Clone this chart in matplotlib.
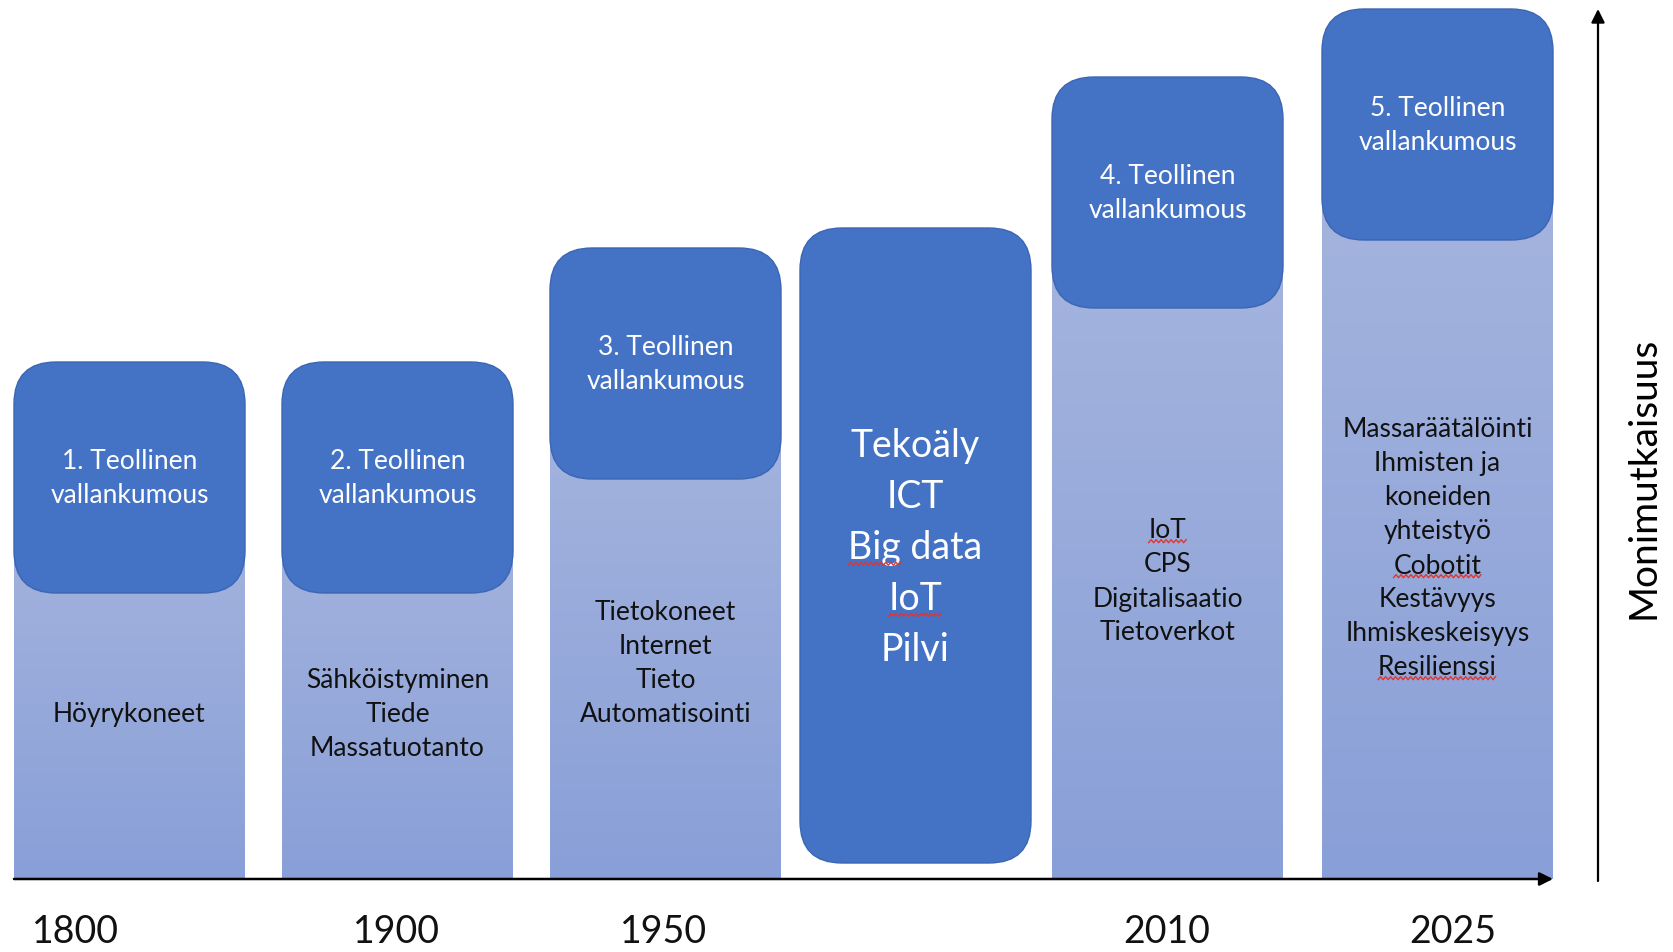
import matplotlib
matplotlib.use("Agg")
import matplotlib.pyplot as plt
import numpy as np
from matplotlib.patches import FancyBboxPatch
from matplotlib.colors import LinearSegmentedColormap

plt.rcParams['font.family'] = ['Lato', 'DejaVu Sans']

# data
eras = ["1800", "1900", "1950", "", "2010", "2025"]
titles = ["1. Teollinen\nvallankumous", "2. Teollinen\nvallankumous",
          "3. Teollinen\nvallankumous", "",
          "4. Teollinen\nvallankumous", "5. Teollinen\nvallankumous"]
features = [
    ["Höyrykoneet"],
    ["Sähköistyminen", "Tiede", "Massatuotanto"],
    ["Tietokoneet", "Internet", "Tieto", "Automatisointi"],
    ["Tekoäly", "ICT", "Big data", "IoT", "Pilvi"],
    ["IoT", "CPS", "Digitalisaatio", "Tietoverkot"],
    ["Massaräätälöinti", "Ihmisten ja", "koneiden", "yhteistyö",
     "Cobotit", "Kestävyys", "Ihmiskeskeisyys", "Resilienssi"],
]
complexity = [517, 517, 631, 651, 802, 870]   # column top above the time axis
spell_flagged = {"Big", "IoT", "Cobotit", "Resilienssi"}
axis_label = "Monimutkaisuus"

# layout (pixels, y measured up from the time axis)
W, H = 1673, 953
BASE = 880
col_left = [14, 282, 550, 800, 1052, 1322]
col_w = 231
box_h = 231
full_col = 3
body_center = [713, 713, 662, 546, 580, 547]   # pixel rows from the top
era_x = [75, 396, 664, None, 1167, 1453]
radius = 42

box_col = "#4472C4"
edge_col = "#3c66b3"
grad = LinearSegmentedColormap.from_list("bar", ["#899fd7", "#a7b6df"])


def row(p):
    return BASE - p


fig = plt.figure(figsize=(W / 100, H / 100), dpi=100)
ax = fig.add_axes([0, 0, 1, 1])
ax.set_axis_off()

ramp = np.linspace(0, 1, 256).reshape(-1, 1)
body_texts = []
for i, top in enumerate(complexity):
    x0 = col_left[i]
    cx = x0 + col_w / 2
    if i == full_col:
        bottom = row(864)
        ax.add_patch(FancyBboxPatch((x0, bottom), col_w, top - bottom,
                                    boxstyle="round,pad=0,rounding_size=%d" % radius,
                                    fc=box_col, ec=edge_col, lw=1, zorder=2))
        fs, gap = 27, 51
        color = "white"
    else:
        # light gradient bar behind the title box
        ax.imshow(ramp, cmap=grad, origin="lower", aspect="auto",
                  extent=(x0, x0 + col_w, 0, top - box_h / 2), zorder=1,
                  interpolation="bilinear")
        ax.add_patch(FancyBboxPatch((x0, top - box_h), col_w, box_h,
                                    boxstyle="round,pad=0,rounding_size=%d" % radius,
                                    fc=box_col, ec=edge_col, lw=1, zorder=2))
        ax.text(cx, top - box_h / 2, titles[i], color="white", fontsize=19,
                ha="center", va="center", linespacing=1.47, zorder=4)
        fs, gap = 19, 34
        color = "#111111"

    lines = features[i]
    em = fs * 100 / 72
    first = body_center[i] - gap * (len(lines) - 1) / 2
    for k, line in enumerate(lines):
        base_px = first + k * gap + 0.36 * em
        t = ax.text(cx, row(base_px), line, color=color, fontsize=fs,
                    ha="center", va="baseline", zorder=4)
        body_texts.append((t, line, fs, base_px))

    if era_x[i] is not None:
        ax.text(era_x[i], row(932), eras[i], fontsize=27, color="#111111",
                ha="center", va="center", zorder=4)

# axes arrows
ax.annotate("", xy=(1553, 0), xytext=(14, 0),
            arrowprops=dict(arrowstyle="-|>", lw=1.8, color="black",
                            mutation_scale=20, shrinkA=0, shrinkB=0), zorder=5)
ax.annotate("", xy=(1598, row(10)), xytext=(1598, -2),
            arrowprops=dict(arrowstyle="-|>", lw=1.6, color="black",
                            mutation_scale=20, shrinkA=0, shrinkB=0), zorder=5)
ax.text(1644, row(478), axis_label, rotation=90, fontsize=28,
        ha="center", va="center", color="black")

ax.set_xlim(0, W)
ax.set_ylim(BASE - H, BASE)

# red spell-check squiggles under flagged words
fig.canvas.draw()
rend = fig.canvas.get_renderer()
inv = ax.transData.inverted()
for t, line, fs, base_px in body_texts:
    bb = t.get_window_extent(rend)
    left = inv.transform((bb.x0, 0))[0]
    for word in line.split():
        if word not in spell_flagged:
            continue
        start = line.index(word)
        pre = 0.0
        if start:
            tmp = ax.text(0, 0, line[:start], fontsize=fs)
            pre = tmp.get_window_extent(rend).width
            tmp.remove()
        tmp = ax.text(0, 0, word, fontsize=fs)
        wlen = tmp.get_window_extent(rend).width
        tmp.remove()
        xs = np.arange(left + pre, left + pre + wlen, 2.5)
        ys = row(base_px + 0.14 * fs * 100 / 72) + np.where(np.arange(len(xs)) % 2, 1.5, -1.5)
        ax.plot(xs, ys, color="#e2352f", lw=1.0, zorder=5)

fig.savefig("out.png", dpi=100)
